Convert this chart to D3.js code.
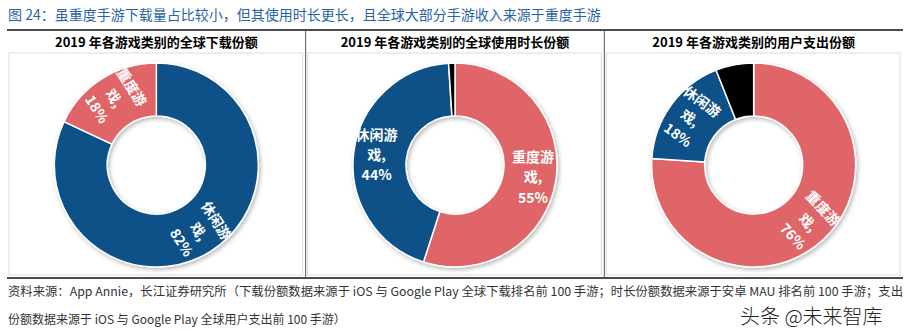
<!DOCTYPE html>
<html><head><meta charset="utf-8">
<script src="https://cdn.jsdelivr.net/npm/d3@7"></script>
<style>
html,body{margin:0;padding:0;background:#fff;}
svg{display:block;font-family:"Noto Sans CJK SC","Noto Sans",sans-serif;}
</style></head>
<body><svg id="c" width="916" height="331"></svg>
<script>
const figureTitle = "图 24：虽重度手游下载量占比较小，但其使用时长更长，且全球大部分手游收入来源于重度手游";
const panelTitles = ["2019 年各游戏类别的全球下载份额", "2019  年各游戏类别的全球使用时长份额", "2019  年各游戏类别的用户支出份额"];
const categories1 = ["休闲游戏", "重度游戏"];
const values1 = [82, 18];
const categories2 = ["重度游戏", "休闲游戏", "其他"];
const values2 = [55, 44, 1];
const categories3 = ["重度游戏", "休闲游戏", "其他"];
const values3 = [76, 18, 6];
const rotateLabels = [true, false, true];
const footLines = ["资料来源：App Annie，长江证券研究所（下载份额数据来源于 iOS 与 Google Play 全球下载排名前 100 手游；时长份额数据来源于安卓 MAU 排名前 100 手游；支出",
                   "份额数据来源于 iOS 与 Google Play 全球用户支出前 100 手游）"];
const watermark = "头条 @未来智库";

const colorScale = d3.scaleOrdinal()
  .domain(["休闲游戏", "重度游戏", "其他"])
  .range(["#0b5188", "#e06568", "#000000"]);

const svg = d3.select("#c");
const defs = svg.append("defs");
const f = defs.append("filter").attr("id","sh").attr("x","-20%").attr("y","-20%").attr("width","140%").attr("height","140%");
f.append("feDropShadow").attr("dx",1.5).attr("dy",2).attr("stdDeviation",2.2)
  .attr("flood-color","#000").attr("flood-opacity",0.28);

// figure title
svg.append("text").attr("x",8).attr("y",20).attr("font-size",14).attr("fill","#2a62a8")
  .text(figureTitle);

const panelX = d3.scaleLinear().domain([0,3]).range([7,903]);
// frame lines
svg.append("line").attr("x1",7).attr("x2",903).attr("y1",30).attr("y2",30).attr("stroke","#111").attr("stroke-width",1.5);
svg.append("line").attr("x1",7).attr("x2",903).attr("y1",278).attr("y2",278).attr("stroke","#111").attr("stroke-width",1.5);
[1,2].forEach(i=>{
  svg.append("line").attr("x1",panelX(i)).attr("x2",panelX(i)).attr("y1",30).attr("y2",278).attr("stroke","#555").attr("stroke-width",1);
});

const panels = [
  {cats:categories1, vals:values1},
  {cats:categories2, vals:values2},
  {cats:categories3, vals:values3}
];
const R = 102, r = 49, cy = 165;
const arc = d3.arc().innerRadius(r).outerRadius(R);
const labelArc = d3.arc().innerRadius(79).outerRadius(79);

panels.forEach((p,i)=>{
  const x0 = panelX(i), x1 = panelX(i+1), cx = (x0+x1)/2;
  svg.append("text").attr("x",cx).attr("y",47).attr("text-anchor","middle")
    .attr("font-size",13).attr("font-weight","bold").attr("fill","#000").text(panelTitles[i]);
  svg.append("rect").attr("x",x0+2).attr("y",53).attr("width",x1-x0-5).attr("height",222)
    .attr("fill","none").attr("stroke","#dcdcdc").attr("stroke-width",1);
  const data = p.cats.map((c,j)=>({name:c, value:p.vals[j]}));
  const pie = d3.pie().sort(null).value(d=>d.value)(data);
  const g = svg.append("g").attr("transform",`translate(${cx},${cy})`);
  g.append("g").attr("filter","url(#sh)").selectAll("path").data(pie).join("path")
    .attr("d",arc).attr("fill",d=>colorScale(d.data.name))
    .attr("stroke","#fff").attr("stroke-width",1.5);
  const lab = g.selectAll("g.lab").data(pie.filter(d=>d.data.name!=="其他")).join("g")
    .attr("class","lab")
    .attr("transform",d=>{
      const [lx,ly] = labelArc.centroid(d);
      let rot = 0;
      if (rotateLabels[i]) {
        rot = ((d.startAngle+d.endAngle)/2)*180/Math.PI - 90;
        if (rot > 90) rot -= 180;
        if (rot < -90) rot += 180;
      }
      return `translate(${lx},${ly}) rotate(${rot})`;
    });
  lab.each(function(d){
    const lines = [d.data.name.slice(0,3), d.data.name.slice(3)+",", d.data.value+"%"];
    d3.select(this).selectAll("text").data(lines).join("text")
      .attr("x",0).attr("y",(t,k)=>(k-1)*20.5).attr("dy","0.35em")
      .attr("text-anchor","middle").attr("font-size",14).attr("font-weight","bold")
      .attr("fill","#fff").text(t=>t);
  });
});

// footer
svg.append("text").attr("x",8).attr("y",296).attr("font-size",12).attr("fill","#333")
  .attr("textLength",895).attr("lengthAdjust","spacingAndGlyphs").text(footLines[0]);
svg.append("text").attr("x",8).attr("y",324).attr("font-size",12).attr("fill","#333")
  .text(footLines[1]);
svg.append("text").attr("x",740).attr("y",324).attr("font-size",20).attr("font-weight",300)
  .attr("fill","#222").attr("stroke","#fff").attr("stroke-width",2.5).attr("paint-order","stroke")
  .text(watermark);
</script></body></html>
